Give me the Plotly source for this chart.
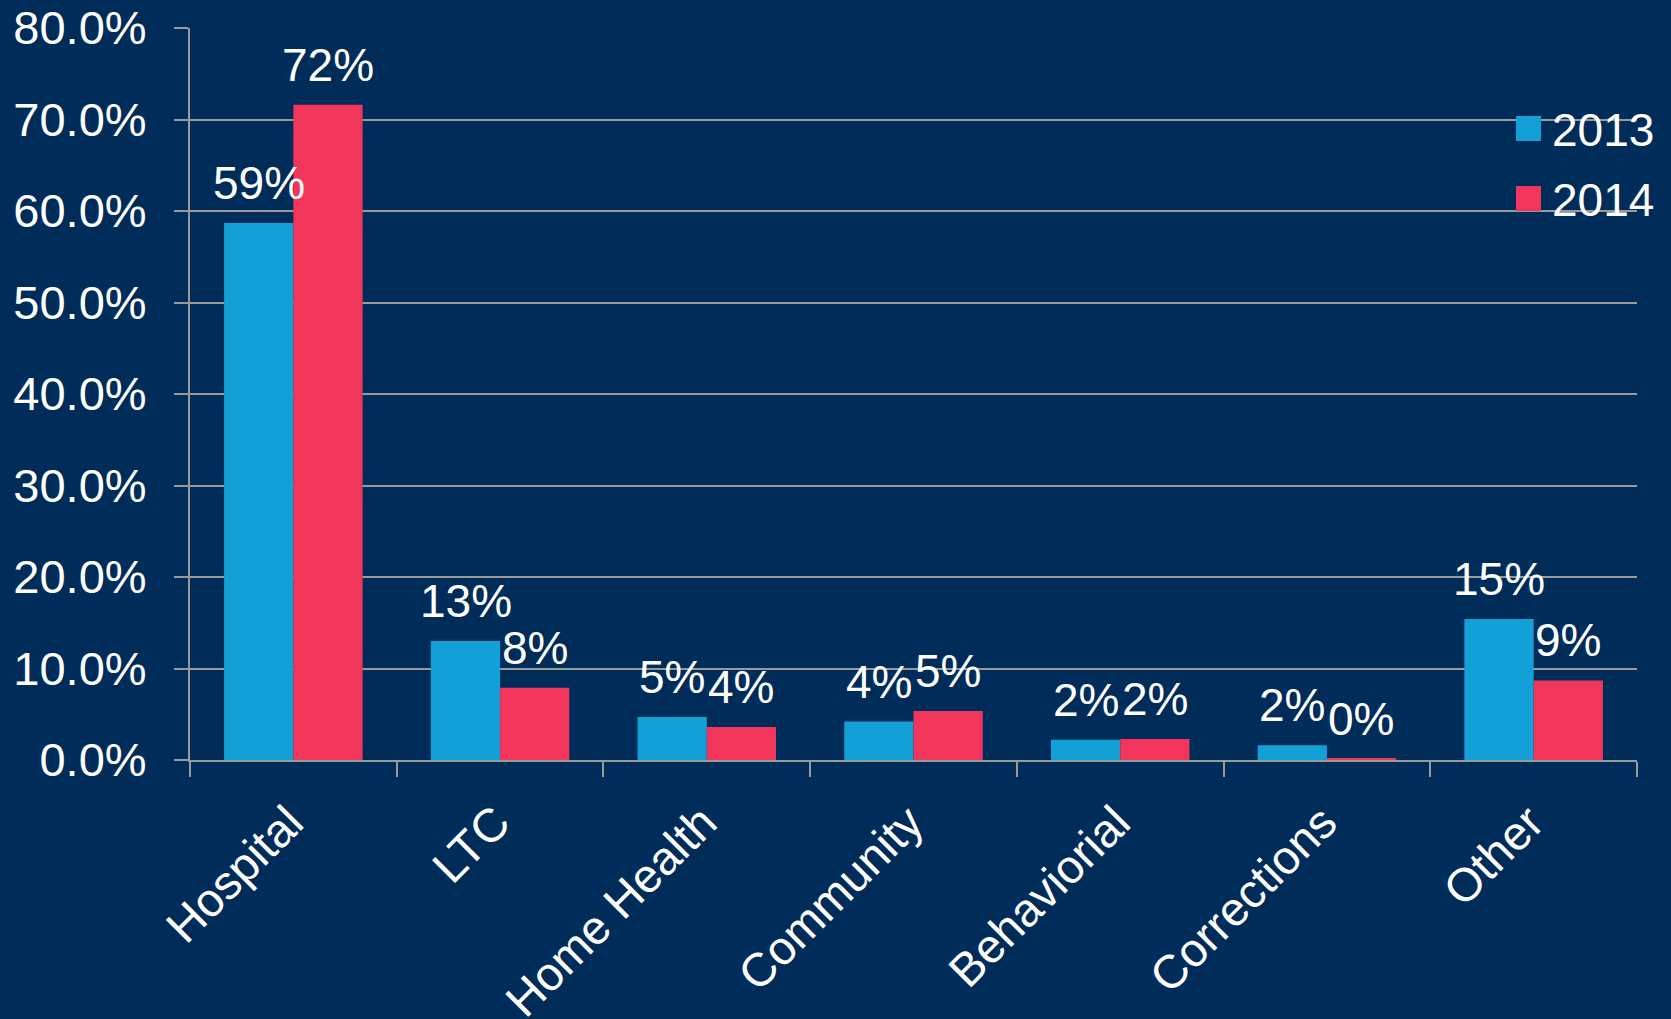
import plotly.graph_objects as go

categories = ["Hospital", "LTC", "Home Health", "Community", "Behaviorial", "Corrections", "Other"]
series_names = ["2013", "2014"]
values_2013 = [58.7, 13.0, 4.7, 4.2, 2.2, 1.6, 15.4]
values_2014 = [71.6, 7.9, 3.6, 5.35, 2.3, 0.15, 8.7]
y_ticks = [0, 10, 20, 30, 40, 50, 60, 70, 80]

BG = "#002C5A"
BLUE = "#13A0D6"
RED = "#F2355B"
GRID = "#9A9A9A"
FONT = "Liberation Sans, Arial, sans-serif"

W, H = 1671, 1019
ML, MR, MT, MB = 190, 34, 28, 259


def px_x(px):
    return (px - ML) / (W - ML - MR)


def px_y(py):
    return (H - MB - py) / (H - MT - MB)


fig = go.Figure()
colors = [BLUE, RED]
all_vals = [values_2013, values_2014]
for name, vals, col in zip(series_names, all_vals, colors):
    fig.add_trace(go.Bar(
        x=categories, y=vals, name=name, marker=dict(color=col, line=dict(width=0)),
        showlegend=False, hoverinfo="skip",
    ))

annotations = []
bar_half = 34.5
for si, vals in enumerate(all_vals):
    shift = -bar_half if si == 0 else bar_half
    for c, v in zip(categories, vals):
        annotations.append(dict(
            x=c, y=v, xref="x", yref="y", text=f"{round(v):d}%", showarrow=False,
            xanchor="center", yanchor="bottom", xshift=shift, yshift=12,
            font=dict(size=46, color="white", family=FONT),
        ))

# custom legend
legend_rows = [(116, 141), (186, 211)]
shapes = []
for name, col, (y0, y1) in zip(series_names, colors, legend_rows):
    shapes.append(dict(type="rect", xref="paper", yref="paper",
                       x0=px_x(1516), x1=px_x(1541), y0=px_y(y1), y1=px_y(y0),
                       fillcolor=col, line=dict(width=0), layer="above"))
    annotations.append(dict(x=px_x(1550), y=px_y((y0 + y1) / 2 + 1), xref="paper", yref="paper",
                            text=name, showarrow=False, xanchor="left", yanchor="middle",
                            font=dict(size=46, color="white", family=FONT)))

fig.update_layout(
    width=W, height=H,
    margin=dict(l=ML, r=MR, t=MT, b=MB, autoexpand=False),
    paper_bgcolor=BG, plot_bgcolor=BG,
    barmode="group", bargap=0.33, bargroupgap=0,
    font=dict(family=FONT, color="white", size=46),
    annotations=annotations, shapes=shapes,
    showlegend=False,
)
fig.update_yaxes(
    range=[0, 80], tickvals=y_ticks, ticktext=[f"{t:.1f}%" for t in y_ticks],
    showgrid=True, gridcolor=GRID, gridwidth=2,
    showline=True, linecolor=GRID, linewidth=2,
    ticks="outside", ticklen=14, tickwidth=2, tickcolor=GRID,
    ticklabelstandoff=18, zeroline=False,
    tickfont=dict(size=47, color="white", family=FONT),
)
fig.update_xaxes(
    type="category", tickson="boundaries", ticks="outside", ticklen=15, tickwidth=2, tickcolor=GRID,
    showline=True, linecolor=GRID, linewidth=2, showgrid=False,
    tickangle=-45, ticklabelshift=-4, ticklabelstandoff=14,
    tickfont=dict(size=47, color="white", family=FONT),
)

fig.write_html("out.html")
